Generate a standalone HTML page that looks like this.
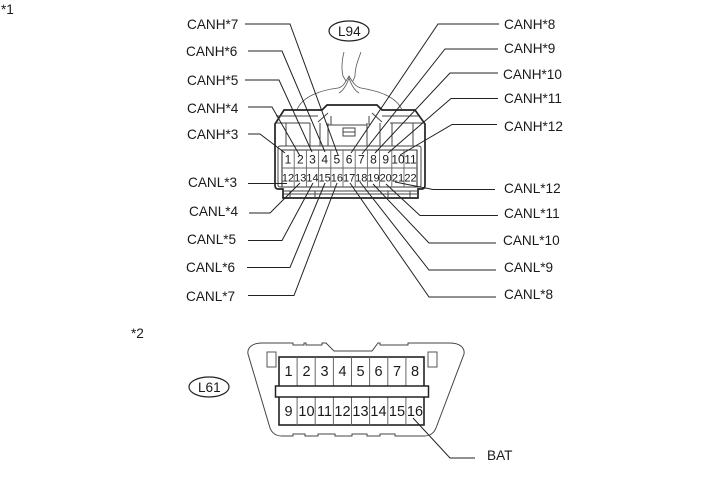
<!DOCTYPE html>
<html><head><meta charset="utf-8"><style>
html,body{margin:0;padding:0;background:#fff;width:713px;height:481px;overflow:hidden}
svg{display:block}
text{font-family:"Liberation Sans",sans-serif;fill:#1a1a1a}
.l{font-size:13.6px}
.n{font-size:12px;text-anchor:middle}
.s{font-size:11px;text-anchor:middle}
.m{font-size:14.5px;text-anchor:middle}
</style></head><body>
<svg width="713" height="481" viewBox="0 0 713 481" xmlns="http://www.w3.org/2000/svg">
<g fill="none" stroke="#222" stroke-width="1">
<!-- wires -->
<g stroke="#555" stroke-width="0.8">
<path d="M344 52C342 60 341 68 343 76L346 81"/>
<path d="M361 52C358 60 355 68 355 76L353 81"/>
<path d="M297 110C302 96 322 90 338 88C343 87 345 83 349 76C353 83 356 87 361 88C378 91 396 96 402 110"/>
<path d="M339 93C344 90 347 84 349 78C351 84 354 90 359 93"/>
</g>
<!-- connector 1 -->
<path fill="#fff" stroke="none" d="M283 198V189H275V124L284 110H322L327 105H377L382 110H415L425 124V189H418V198Z"/>
<path stroke-width="1.7" d="M283 198V189H278Q275 189 275 185V124L284 110H322L327 105H377L382 110H415L425 124V185Q425 189 422 189H418V198Z"/>
<g stroke="#444" stroke-width="1">
<path d="M276 116H318M382 116H419"/>
<path d="M276 123H310M390 123H424"/>
<path d="M318 122L328 113M382 122L372 113"/>
<path d="M286 123V146M310 123V146M320 123V146M328 123V146M367 123V146M380 123V146M392 123V146M413 123V146"/>
<path d="M328 125H367M331 116V125M369 116V125"/>
<path d="M343 128H355V136H343ZM343 132H355"/>
<rect x="278" y="146" width="143" height="41" rx="2"/>
<path d="M283 191H418M283 194H418"/>
<path d="M290 191V197M315 191V197M388 191V197M410 191V197"/>
</g>
<path stroke="#333" stroke-width="1.1" d="M282 150H417V187H282Z"/>
<path stroke="#666" stroke-width="0.9" d="M282 168H417M294.2 150V187M306.4 150V187M318.6 150V187M330.8 150V187M343 150V187M355.2 150V187M367.4 150V187M379.6 150V187M391.8 150V187M404 150V187"/>
<!-- leaders -->
<g stroke="#222" stroke-width="1">
<path d="M245 24H290L338 155"/>
<path d="M248 51H282L325 152"/>
<path d="M245 80H279L312 152"/>
<path d="M248 107H272L300 156"/>
<path d="M248 134H260L285 153"/>
<path d="M499 24H438L351 153"/>
<path d="M498 49H445L362 154"/>
<path d="M498 73H450L375 153"/>
<path d="M498 98.5H451L388 153"/>
<path d="M497 124.5H452L400 155"/>
<path d="M248 183.5H287"/>
<path d="M249 213H270L300 183"/>
<path d="M248 240.5H282L313 183"/>
<path d="M247 267.5H290L325 183"/>
<path d="M248 295.5H294L337 183"/>
<path d="M495 189.5H433L395 182"/>
<path d="M498 215.5H420L386 184"/>
<path d="M496 243H429L373 184"/>
<path d="M496 270H429L360 182"/>
<path d="M496 297H429L350 183"/>
<path d="M413 418L450 458H475"/>
</g>
<ellipse cx="349" cy="31" rx="20" ry="10" stroke-width="1.2"/>
<ellipse cx="209" cy="387" rx="20" ry="10" stroke-width="1.2"/>
<!-- connector 2 -->
<path stroke="#444" stroke-width="1" d="M293 343H262C252 343 247 348 248 354L270 428C272 433 276 436 282 436H293V434H305V436H318V434H335V436H352V434H367V436H380V434H395V436H424C430 436 434 433 436 428L464 354C465 348 460 343 450 343H408V345H393L380 345V343H378L372 351H334L326 343H322V345H306V343H304V345H293Z"/>
<rect x="267" y="352" width="9" height="15" stroke="#555"/>
<rect x="428" y="352" width="9" height="15" stroke="#555"/>
<rect x="279" y="357" width="145" height="68" stroke="#222" stroke-width="1.6"/>
<path stroke="#666" d="M297.1 357V425M315.2 357V425M333.4 357V425M351.5 357V425M369.6 357V425M387.8 357V425M405.9 357V425"/>
<rect x="275.5" y="386" width="153" height="11" fill="#fff" stroke="#222" stroke-width="1.5"/>
</g>
<g>
<text class="l" x="187" y="29">CANH*7</text>
<text class="l" x="186" y="56">CANH*6</text>
<text class="l" x="187" y="85">CANH*5</text>
<text class="l" x="187" y="113">CANH*4</text>
<text class="l" x="187" y="139">CANH*3</text>
<text class="l" x="188" y="187">CANL*3</text>
<text class="l" x="189" y="216">CANL*4</text>
<text class="l" x="187" y="244">CANL*5</text>
<text class="l" x="186" y="272">CANL*6</text>
<text class="l" x="186" y="301">CANL*7</text>
<text class="l" x="504" y="29">CANH*8</text>
<text class="l" x="504" y="53">CANH*9</text>
<text class="l" x="503" y="79">CANH*10</text>
<text class="l" x="504" y="103">CANH*11</text>
<text class="l" x="504" y="131">CANH*12</text>
<text class="l" x="504" y="193">CANL*12</text>
<text class="l" x="504" y="218">CANL*11</text>
<text class="l" x="503" y="245">CANL*10</text>
<text class="l" x="504" y="272">CANL*9</text>
<text class="l" x="504" y="299">CANL*8</text>
<text class="l" x="487" y="460">BAT</text>
<text class="l" x="1" y="14">*1</text>
<text class="l" x="131" y="338">*2</text>
<text class="l" x="338" y="36">L94</text>
<text class="l" x="198" y="392">L61</text>
</g>
<g>
<text class="n" x="288" y="163.5">1</text><text class="n" x="300.3" y="163.5">2</text><text class="n" x="312.5" y="163.5">3</text><text class="n" x="324.7" y="163.5">4</text><text class="n" x="336.9" y="163.5">5</text><text class="n" x="349.1" y="163.5">6</text><text class="n" x="361.3" y="163.5">7</text><text class="n" x="373.5" y="163.5">8</text><text class="n" x="385.7" y="163.5">9</text><text class="n" x="398" y="163.5">10</text><text class="n" x="410.5" y="163.5">11</text>
<text class="s" x="288" y="181.5">12</text><text class="s" x="300.3" y="181.5">13</text><text class="s" x="312.5" y="181.5">14</text><text class="s" x="324.7" y="181.5">15</text><text class="s" x="336.9" y="181.5">16</text><text class="s" x="349.1" y="181.5">17</text><text class="s" x="361.3" y="181.5">18</text><text class="s" x="373.5" y="181.5">19</text><text class="s" x="385.7" y="181.5">20</text><text class="s" x="398" y="181.5">21</text><text class="s" x="410.5" y="181.5">22</text>
<text class="m" x="288.5" y="376">1</text><text class="m" x="306.5" y="376">2</text><text class="m" x="324.5" y="376">3</text><text class="m" x="342.5" y="376">4</text><text class="m" x="360.5" y="376">5</text><text class="m" x="378.5" y="376">6</text><text class="m" x="397" y="376">7</text><text class="m" x="415" y="376">8</text>
<text class="m" x="288.5" y="416">9</text><text class="m" x="306.5" y="416">10</text><text class="m" x="324.5" y="416">11</text><text class="m" x="342.5" y="416">12</text><text class="m" x="360.5" y="416">13</text><text class="m" x="378.5" y="416">14</text><text class="m" x="397" y="416">15</text><text class="m" x="415" y="416">16</text>
</g>
</svg>
</body></html>
